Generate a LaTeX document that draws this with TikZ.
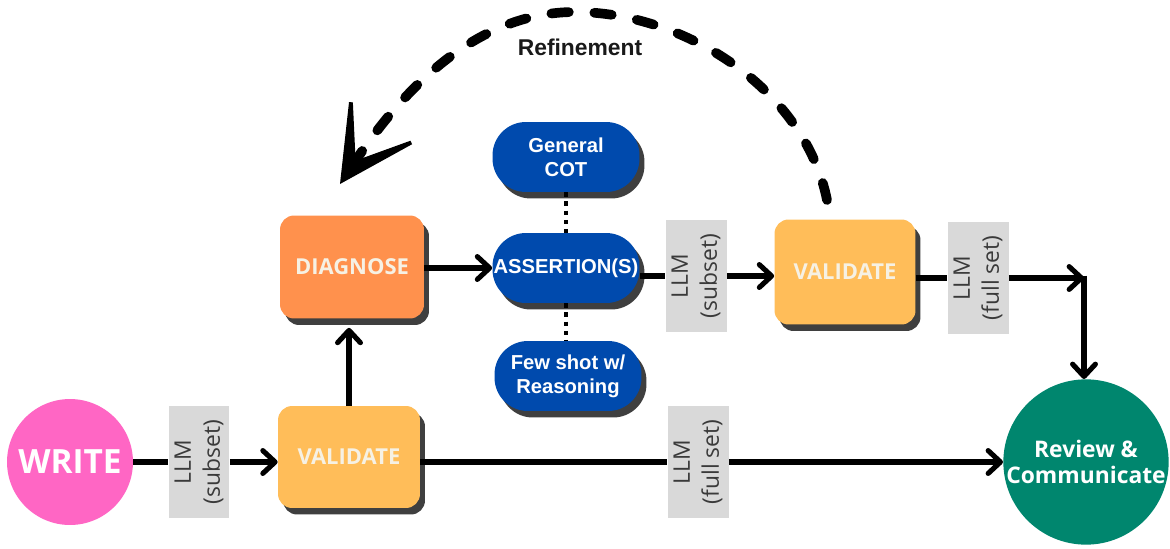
\documentclass[tikz,border=0pt]{standalone}
\usepackage{fontspec}
\setmainfont{Open Sans}
\newfontfamily\altsans{Liberation Sans}
\usetikzlibrary{arrows.meta,shadows}
\definecolor{wpink}{HTML}{FF66C4}
\definecolor{dorange}{HTML}{FF914D}
\definecolor{vyellow}{HTML}{FFBD59}
\definecolor{ablue}{HTML}{004AAD}
\definecolor{rteal}{HTML}{00866E}
\definecolor{lgray}{HTML}{D9D9D9}
\definecolor{shad}{HTML}{3F3F3F}
\definecolor{cream}{HTML}{F6F1E4}
\definecolor{ltext}{HTML}{3A3A3A}
\tikzset{
  shd/.style={drop shadow={shadow xshift=0.1cm, shadow yshift=-0.13cm, fill=shad, opacity=1}},
  box/.style={rectangle, rounded corners=8pt, minimum width=2.84cm, minimum height=2.04cm,
    inner sep=0pt, text=cream, font=\bfseries\fontsize{12.5}{15}\selectfont, shd},
  blob/.style={rectangle, rounded corners=19pt, minimum width=2.94cm, minimum height=1.40cm,
    fill=ablue, text=white, font=\altsans\bfseries\fontsize{11.5}{13.5}\selectfont, align=center,
    inner sep=0pt, shd},
  llmbox/.style={fill=lgray, rotate=90, minimum width=2.24cm, minimum height=1.22cm,
    inner sep=0pt, align=center, text=ltext, font=\fontsize{13}{16.5}\selectfont},
  conn/.style={line width=2.9pt, black},
  arr/.style={conn, -{Straight Barb[length=7pt,width=13pt,round]}},
  dotline/.style={line width=2.2pt, dash pattern=on 2.6pt off 2.6pt},
  refine/.style={line width=5.5pt, line cap=round, dash pattern=on 10pt off 14.5pt,
    -{Stealth[length=54pt,width=56pt,inset=38pt,line width=2.2pt]}},
}
\begin{document}
\begin{tikzpicture}[x=0.02cm,y=-0.02cm]
\useasboundingbox (0,0) rectangle (1170,548);
% nodes
\node[circle, fill=wpink, minimum size=2.52cm, inner sep=0pt, text=white,
  font=\bfseries\fontsize{19}{22}\selectfont] (write) at (70,462) {WRITE};
\node[llmbox] (l1) at (199,462) {LLM\\(subset)};
\node[box, fill=vyellow] (vb) at (349,457) {VALIDATE};
\node[box, fill=dorange, minimum width=2.88cm, minimum height=2.06cm] (dg) at (352,267) {DIAGNOSE};
\node[blob] (as) at (566,268) {ASSERTION(S)};
\node[blob] (cot) at (566,157) {General\\COT};
\node[blob] (few) at (568,376) {Few shot w/\\Reasoning};
\node[llmbox] (l2) at (696,276) {LLM\\(subset)};
\node[box, fill=vyellow, minimum width=2.82cm, minimum height=2.10cm] (vt) at (845,272) {VALIDATE};
\node[llmbox] (l3) at (978,278) {LLM\\(full set)};
\node[llmbox] (l4) at (698,462) {LLM\\(full set)};
\node[circle, fill=rteal, minimum size=3.26cm, inner sep=0pt, text=white, align=center,
  font=\bfseries\fontsize{13}{15}\selectfont] (rv) at (1086,462) {Review \&\\Communicate};
\node[font=\altsans\bfseries\fontsize{13}{15}\selectfont, text=black!90] (rl) at (580,47) {Refinement};
% helper coordinates
\coordinate (dgb) at ([yshift=-0.18cm]dg.south);
\coordinate (cn) at (1084,278);
\coordinate (rs) at (827,200);
\coordinate (re) at (340,184);
% connectors
\draw[conn] (write.east) -- (l1.north);
\draw[arr] (l1.south) -- (l1.south -| vb.west);
\draw[arr] (vb.north) -- (vb.north |- dgb);
\draw[arr] (dg.east |- as.west) -- (as.west);
\draw[conn] (as.east |- l2.north) -- (l2.north);
\draw[arr] (l2.south) -- (l2.south -| vt.west);
\draw[conn] (vt.east |- l3.north) -- (l3.north);
\draw[arr] (l3.south) -- (l3.south -| cn);
\draw[arr] ([yshift=1.4pt]cn) -- (cn |- rv.north);
\draw[conn] (vb.east |- l4.north) -- (l4.north);
\draw[arr] (l4.south) -- (l4.south -| rv.west);
\draw[dotline] (cot.south) -- (as.north);
\draw[dotline] (as.south) -- (as.south |- few.north);
\draw[refine] (rs) .. controls (805,90) and (685,12) .. (575,12) .. controls (470,12) and (396,100) .. (re);
\end{tikzpicture}
\end{document}
